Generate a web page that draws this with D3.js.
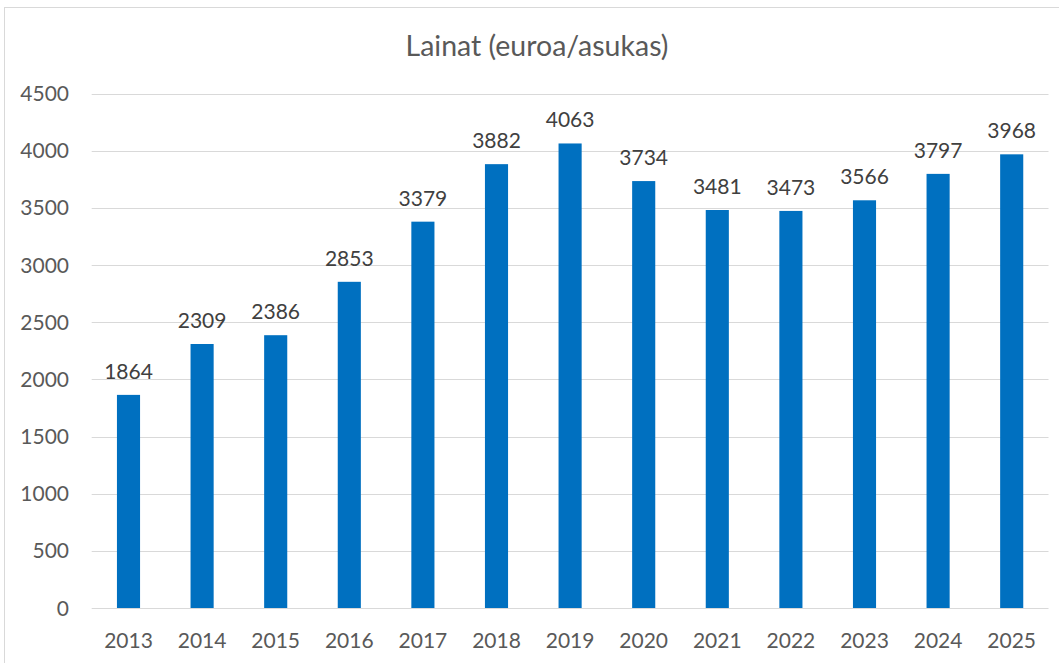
<!DOCTYPE html>
<html><head><meta charset="utf-8">
<script src="https://cdn.jsdelivr.net/npm/d3@7"></script>
<style>body{margin:0;background:#fff;}svg{display:block;font-family:Lato,"Open Sans",sans-serif;}</style>
</head><body>
<svg id="c" width="1059" height="663"></svg>
<script>
const years = ["2013","2014","2015","2016","2017","2018","2019","2020","2021","2022","2023","2024","2025"];
const values = [1864,2309,2386,2853,3379,3882,4063,3734,3481,3473,3566,3797,3968];
const yTicks = [0,500,1000,1500,2000,2500,3000,3500,4000,4500];
const title = "Lainat (euroa/asukas)";

const svg = d3.select("#c");
svg.append("rect").attr("x",4.5).attr("y",7.5).attr("width",1060).attr("height",670)
  .attr("fill","#fff").attr("stroke","#d9d9d9");

const x = d3.scaleBand().domain(years).range([91.7,1048.5]).paddingInner(0.686).paddingOuter(0.343);
const y = d3.scaleLinear().domain([0,4500]).range([608,93.5]);

const g = svg.append("g");
yTicks.forEach(t=>{
  g.append("line").attr("x1",91.7).attr("x2",1048.5).attr("y1",Math.round(y(t))+0.5).attr("y2",Math.round(y(t))+0.5)
   .attr("stroke","#d9d9d9").attr("stroke-width",1);
  g.append("text").attr("x",69).attr("y",y(t)).attr("dy","0.36em").attr("text-anchor","end")
   .attr("font-size",21).attr("fill","#595959").text(t);
});
g.selectAll("rect.bar").data(values).join("rect").attr("class","bar")
  .attr("x",(d,i)=>x(years[i])).attr("width",x.bandwidth())
  .attr("y",d=>y(d)).attr("height",d=>y(0)-y(d)).attr("fill","#0070c0");
g.selectAll("text.val").data(values).join("text").attr("class","val")
  .attr("x",(d,i)=>x(years[i])+x.bandwidth()/2).attr("y",d=>y(d)-16)
  .attr("text-anchor","middle").attr("font-size",21).attr("fill","#404040").text(d=>d);
g.selectAll("text.yr").data(years).join("text").attr("class","yr")
  .attr("x",d=>x(d)+x.bandwidth()/2).attr("y",648)
  .attr("text-anchor","middle").attr("font-size",21).attr("fill","#595959").text(d=>d);
svg.append("text").attr("x",537).attr("y",56).attr("text-anchor","middle")
  .attr("font-size",28.5).attr("fill","#595959").text(title);
</script>
</body></html>
